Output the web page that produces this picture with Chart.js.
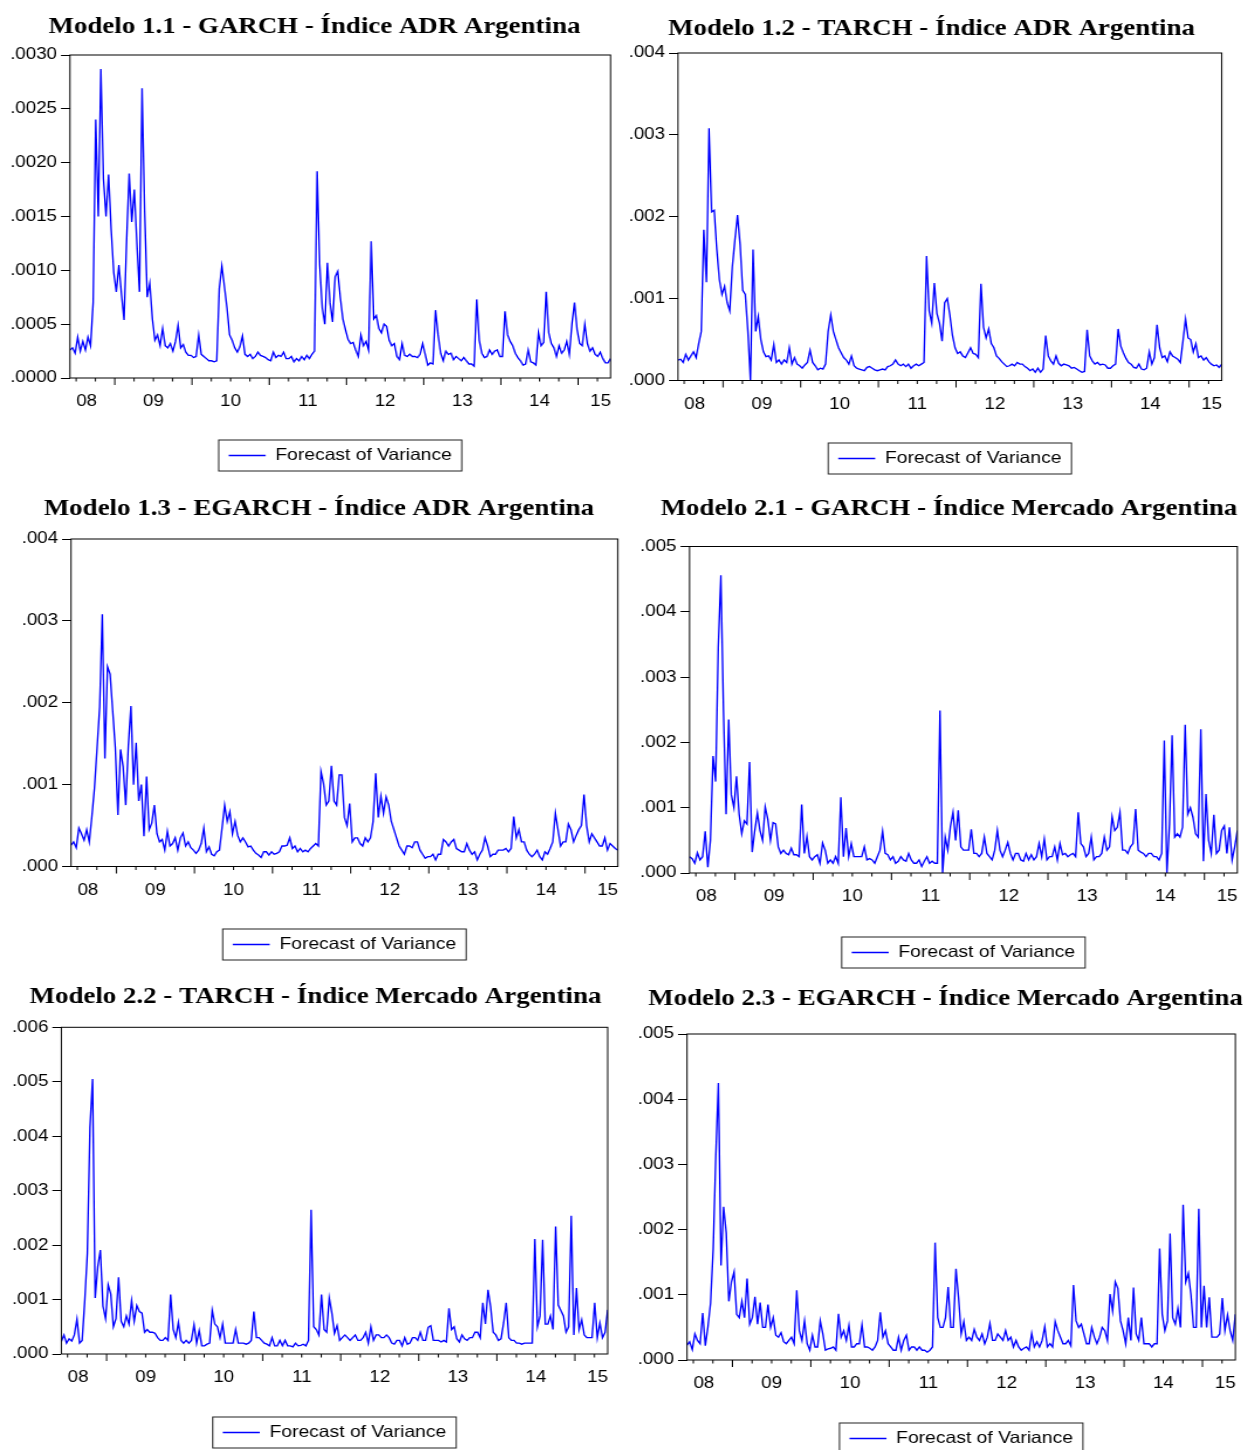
<!DOCTYPE html>
<html>
<head>
<meta charset="utf-8">
<title>Forecast of Variance - Argentina</title>
<script src="https://cdn.jsdelivr.net/npm/chart.js@4.4.1/dist/chart.umd.min.js"></script>
<style>
  html, body { margin: 0; padding: 0; background: #fff; overflow: hidden; }
  body { width: 1243px; height: 1450px; position: relative; }
  canvas { position: absolute; }
</style>
</head>
<body>
<script>
// Conditional variance forecasts, one observation every ~12 trading days
// (30 per year) from late May 2008 to late May 2015, in units of 1e-4.
const adrGarch = [
  2.6, 2.8, 2.3, 3.8, 2.5, 3.4, 2.6, 3.8, 3.0, 7.0,
  24.0, 15.0, 28.7, 18.5, 15.0, 18.9, 13.8, 9.8, 8.0, 10.5,
  7.8, 5.4, 12.8, 19.0, 14.5, 17.5, 12.5, 8.0, 26.9, 15.5,
  7.5, 8.8, 5.5, 3.5, 4.0, 3.0, 4.6, 3.0, 2.8, 3.2,
  2.5, 3.4, 4.9, 2.8, 3.1, 2.4, 2.1, 2.1, 1.9, 2.0,
  4.0, 2.2, 2.0, 1.8, 1.6, 1.6, 1.5, 1.6, 8.3, 10.4,
  8.5, 6.5, 4.0, 3.5, 2.8, 2.4, 2.9, 3.9, 2.2, 2.0,
  2.2, 1.8, 2.0, 2.4, 2.1, 2.0, 1.9, 1.7, 1.6, 2.4,
  1.9, 2.1, 2.0, 2.4, 1.8, 1.8, 2.0, 1.5, 1.8, 1.6,
  2.0, 1.7, 2.1, 1.8, 2.2, 2.5, 19.2, 10.5, 6.5, 5.0,
  10.7, 7.0, 5.2, 9.4, 9.9, 7.5, 5.5, 4.5, 3.6, 3.2,
  3.3, 2.6, 2.0, 4.0, 3.0, 3.4, 2.6, 12.7, 5.5, 5.8,
  4.6, 4.2, 5.0, 4.8, 3.5, 3.0, 3.2, 2.0, 1.7, 3.2,
  2.1, 2.0, 2.2, 2.0, 2.0, 1.9, 2.2, 3.2, 2.2, 1.2,
  1.4, 1.3, 6.3, 4.0, 2.3, 1.6, 2.5, 2.2, 2.3, 1.7,
  2.0, 1.8, 1.6, 1.9, 1.6, 1.3, 1.3, 1.1, 7.3, 3.5,
  2.3, 1.9, 2.0, 2.6, 2.2, 2.5, 2.6, 2.0, 2.0, 6.2,
  4.0, 3.4, 3.0, 2.3, 1.9, 1.6, 1.2, 1.3, 2.6, 1.5,
  1.4, 1.2, 4.2, 3.0, 3.3, 8.0, 4.2, 3.2, 2.8, 2.0,
  3.0, 2.3, 2.6, 3.4, 2.2, 5.0, 7.0, 4.5, 3.2, 3.0,
  5.0, 3.2, 2.5, 2.8, 2.2, 2.0, 2.4, 1.8, 1.4, 1.4, 1.8
];
const adrTarch = [
  2.5, 2.6, 2.2, 3.2, 2.5, 3.0, 3.5, 2.8, 4.5, 6.0,
  18.4, 12.0, 30.8, 20.6, 20.8, 16.0, 12.3, 10.5, 11.5, 9.5,
  8.5, 13.9, 17.2, 20.2, 16.6, 11.0, 10.5, 6.0, 0.0, 16.0,
  6.0, 7.8, 5.0, 3.5, 2.9, 3.0, 2.5, 4.4, 2.2, 2.5,
  2.0, 2.5, 2.2, 4.0, 2.0, 2.8, 2.0, 1.8, 1.5, 1.9,
  2.2, 3.7, 2.2, 1.8, 1.3, 1.5, 1.4, 2.0, 6.0, 8.0,
  6.0, 5.0, 4.0, 3.4, 2.8, 2.5, 2.0, 3.0, 1.8, 1.5,
  1.4, 1.3, 1.2, 1.6, 1.7, 1.5, 1.3, 1.2, 1.3, 1.4,
  1.3, 1.7, 1.8, 2.0, 2.5, 2.0, 1.8, 2.0, 1.7, 2.0,
  1.5, 1.8, 2.0, 1.8, 2.0, 2.2, 15.2, 8.5, 7.0, 11.9,
  8.2, 7.0, 4.8, 9.5, 10.0, 8.0, 5.5, 4.0, 3.3, 3.5,
  3.0, 2.8, 3.4, 4.0, 3.3, 3.2, 2.8, 11.8, 6.5, 5.2,
  6.3, 4.5, 4.0, 3.0, 2.7, 2.3, 2.0, 1.7, 1.8, 2.0,
  1.8, 2.2, 2.0, 2.0, 1.7, 1.5, 1.2, 1.4, 1.0, 1.5,
  1.0, 1.4, 5.5, 3.0, 2.4, 2.0, 3.0, 2.1, 1.8, 2.0,
  1.9, 1.8, 1.5, 1.6, 1.4, 1.2, 1.0, 1.1, 6.2, 3.0,
  2.4, 2.0, 2.2, 1.9, 2.0, 1.9, 1.5, 1.5, 1.8, 2.0,
  6.3, 4.2, 3.4, 2.7, 2.2, 2.0, 1.6, 1.5, 2.0, 1.4,
  1.3, 1.5, 3.5, 2.0, 2.8, 6.8, 4.0, 2.8, 3.0, 2.3,
  3.5, 3.0, 2.8, 2.6, 2.2, 4.8, 7.5, 5.2, 5.0, 3.5,
  4.5, 2.8, 3.0, 2.5, 2.8, 2.3, 2.0, 1.8, 1.9, 1.6, 2.0
];
const adrEgarch = [
  2.6, 3.0, 2.3, 4.7, 4.0, 3.2, 4.5, 3.0, 6.1, 9.6,
  14.5, 19.5, 30.8, 13.2, 24.4, 23.5, 19.0, 14.5, 6.3, 14.3,
  12.2, 7.5, 14.7, 19.6, 10.0, 15.1, 8.0, 10.0, 3.7, 11.0,
  4.5, 5.3, 7.5, 4.0, 3.0, 3.3, 2.0, 4.3, 2.5, 2.8,
  3.5, 2.0, 3.5, 4.1, 2.5, 3.0, 2.3, 2.0, 1.6, 2.0,
  2.8, 4.7, 1.8, 2.4, 1.5, 1.3, 1.8, 2.0, 4.7, 7.5,
  5.5, 6.7, 4.0, 5.5, 3.8, 3.0, 3.5, 3.0, 2.4, 2.5,
  2.0, 1.6, 1.4, 1.1, 1.8, 1.8, 1.4, 1.8, 1.5, 1.6,
  1.8, 2.5, 2.5, 2.6, 3.5, 2.2, 2.5, 1.8, 2.2, 1.8,
  2.0, 1.8, 2.2, 2.5, 2.8, 2.5, 11.6, 10.1, 7.5, 8.0,
  12.3, 8.0, 7.5, 11.2, 11.2, 6.0, 5.0, 7.7, 3.0, 3.5,
  3.5, 2.8, 2.5, 3.5, 3.0, 3.5, 5.5, 11.4, 6.0, 8.6,
  6.5, 8.5, 7.5, 5.5, 4.5, 3.5, 2.5, 2.0, 1.5, 2.5,
  2.5, 2.3, 3.0, 3.0, 2.0, 1.5, 1.0, 1.2, 1.2, 1.5,
  0.8, 1.5, 1.5, 3.3, 3.0, 2.5, 3.0, 3.3, 2.2, 2.0,
  1.8, 1.8, 2.8, 2.0, 1.5, 1.8, 0.8, 1.5, 2.0, 3.5,
  2.5, 1.2, 1.5, 1.5, 2.0, 2.0, 2.0, 2.2, 1.8, 2.2,
  6.1, 3.5, 4.5, 3.0, 3.0, 2.0, 1.5, 1.2, 1.5, 2.0,
  1.2, 0.8, 1.8, 1.5, 2.2, 3.0, 6.5, 4.5, 2.5, 3.0,
  3.0, 5.2, 4.5, 3.0, 3.8, 4.5, 5.0, 8.8, 5.0, 3.0,
  4.0, 3.5, 3.0, 2.5, 2.5, 3.5, 2.0, 2.8, 2.5, 2.2, 2.0
];
const mktGarch = [
  2.5, 2.2, 1.5, 3.1, 2.0, 2.5, 6.4, 0.9, 5.0, 17.9,
  14.0, 34.6, 45.6, 25.0, 9.0, 23.5, 12.0, 10.0, 14.8, 9.0,
  6.0, 8.0, 7.5, 17.0, 3.2, 6.5, 9.2, 6.5, 5.0, 10.1,
  8.2, 5.0, 7.7, 7.5, 4.0, 3.0, 3.5, 3.0, 2.8, 3.8,
  2.8, 2.8, 2.5, 10.5, 3.0, 5.6, 2.5, 2.0, 2.5, 2.8,
  1.5, 4.6, 3.5, 1.5, 2.0, 1.5, 2.5, 1.5, 11.6, 2.5,
  6.9, 2.5, 4.5, 2.5, 2.5, 2.5, 2.5, 4.0, 2.0, 2.2,
  2.0, 1.5, 2.5, 3.5, 6.4, 3.0, 2.8, 2.0, 2.5, 1.5,
  1.8, 2.5, 2.0, 1.8, 3.0, 2.0, 1.5, 1.5, 2.0, 1.0,
  1.8, 2.5, 1.5, 1.8, 1.5, 1.5, 24.9, 0.0, 5.5, 3.5,
  7.1, 9.3, 5.0, 9.6, 4.0, 3.5, 3.5, 3.5, 6.7, 3.0,
  3.0, 2.5, 3.0, 5.5, 3.0, 2.5, 2.0, 3.5, 6.5, 3.5,
  2.5, 3.5, 4.7, 3.0, 2.0, 3.0, 3.0, 2.0, 1.8, 3.0,
  2.0, 2.8, 2.0, 2.5, 4.5, 2.5, 5.2, 2.0, 2.5, 2.5,
  4.0, 2.0, 4.5, 2.8, 3.0, 2.5, 2.8, 3.0, 2.5, 9.3,
  4.5, 4.0, 2.5, 3.0, 5.5, 2.0, 2.5, 2.5, 3.0, 5.5,
  3.5, 4.0, 8.6, 6.5, 7.0, 9.3, 3.5, 3.5, 3.0, 4.0,
  4.5, 9.8, 3.5, 3.2, 3.0, 2.5, 3.0, 3.0, 2.5, 2.5,
  2.0, 3.0, 20.3, 0.0, 7.5, 21.1, 5.5, 6.0, 5.5, 7.0,
  22.7, 9.0, 10.0, 8.5, 6.0, 5.5, 22.0, 1.8, 12.1, 5.0,
  3.0, 8.9, 3.0, 3.5, 6.5, 7.2, 3.0, 7.0, 2.0, 4.0, 6.5
];
const mktTarch = [
  2.3, 3.5, 2.0, 2.8, 2.4, 3.5, 6.4, 2.0, 2.5, 9.8,
  18.5, 41.6, 50.5, 10.3, 16.0, 19.1, 8.8, 6.5, 12.7, 11.0,
  5.0, 6.5, 14.1, 6.0, 5.0, 7.0, 5.5, 9.8, 6.0, 8.9,
  7.8, 7.5, 4.0, 4.5, 4.0, 4.0, 3.8, 3.0, 2.5, 2.5,
  3.0, 2.5, 10.9, 4.5, 3.0, 5.8, 2.5, 2.0, 2.5, 2.0,
  2.5, 5.4, 2.0, 4.3, 1.5, 1.5, 1.8, 2.0, 8.0, 5.5,
  5.0, 3.0, 5.5, 2.0, 2.0, 2.0, 2.0, 4.5, 2.0, 2.0,
  2.0, 1.8, 2.0, 2.5, 7.8, 3.0, 3.0, 2.5, 2.0, 1.8,
  1.5, 3.0, 1.5, 1.5, 2.5, 1.5, 2.5, 1.5, 1.5, 1.3,
  2.0, 1.5, 1.6, 1.8, 1.5, 2.5, 26.5, 5.0, 4.5, 3.5,
  10.9, 4.5, 4.0, 10.3, 7.5, 3.8, 5.2, 2.5, 3.0, 3.5,
  3.0, 2.5, 3.0, 3.5, 2.5, 2.5, 3.0, 4.0, 2.0, 5.0,
  2.5, 3.5, 3.5, 3.0, 3.0, 3.5, 3.0, 2.0, 1.8, 2.5,
  2.5, 1.5, 3.0, 1.8, 2.0, 3.0, 3.0, 2.5, 4.0, 2.5,
  2.5, 4.9, 5.2, 2.5, 2.5, 2.5, 2.2, 2.5, 2.2, 8.4,
  4.5, 5.0, 2.8, 2.2, 3.5, 2.8, 2.5, 3.0, 3.0, 4.0,
  4.0, 3.0, 9.4, 5.5, 11.8, 8.7, 4.0, 3.5, 2.5, 2.8,
  5.7, 9.4, 3.0, 2.5, 2.5, 2.0, 2.0, 1.8, 2.0, 2.0,
  2.0, 2.0, 21.1, 5.0, 7.0, 21.0, 5.5, 5.5, 7.0, 4.5,
  23.4, 9.0, 8.0, 7.0, 4.0, 5.0, 25.4, 3.5, 12.1, 4.5,
  6.3, 3.5, 3.0, 3.0, 3.0, 9.4, 3.0, 5.7, 3.0, 4.0, 8.1
];
const mktEgarch = [
  2.3, 2.8, 1.6, 4.0, 3.0, 2.5, 7.2, 2.2, 5.1, 8.7,
  17.0, 31.2, 42.5, 14.5, 23.5, 19.5, 9.0, 12.0, 13.5, 7.0,
  6.5, 9.0, 6.5, 12.5, 5.5, 6.5, 9.7, 5.5, 8.8, 5.0,
  5.0, 8.5, 5.0, 6.5, 3.8, 3.5, 4.2, 2.8, 2.5, 3.0,
  3.5, 2.5, 10.7, 4.5, 3.0, 6.0, 2.5, 1.5, 3.8, 2.0,
  2.0, 6.0, 4.0, 1.5, 1.7, 1.8, 2.0, 1.5, 7.1, 3.5,
  4.5, 3.0, 5.3, 2.0, 2.0, 2.5, 2.5, 5.4, 2.0, 2.0,
  1.8, 1.5, 2.0, 3.0, 7.3, 3.5, 4.5, 2.5, 2.0, 1.5,
  1.5, 3.5, 1.5, 3.0, 3.8, 1.5, 2.0, 2.0, 1.5, 2.0,
  1.5, 1.5, 1.2, 1.5, 2.0, 18.0, 6.5, 5.0, 5.0, 6.5,
  11.2, 5.0, 5.0, 14.0, 9.5, 4.0, 5.9, 3.0, 3.5, 3.0,
  4.7, 3.5, 3.0, 4.0, 2.5, 3.5, 5.6, 3.0, 3.0, 4.0,
  3.5, 3.0, 4.5, 3.0, 3.5, 2.0, 3.0, 2.0, 1.5, 1.8,
  2.0, 1.5, 4.1, 2.0, 2.8, 2.0, 3.0, 5.1, 2.0, 2.5,
  2.0, 5.9, 4.5, 3.5, 2.5, 2.5, 3.0, 2.2, 11.5, 6.0,
  5.0, 5.5, 4.0, 2.5, 2.5, 5.0, 3.5, 2.5, 3.5, 5.0,
  4.5, 3.0, 10.1, 7.5, 12.0, 11.0, 6.0, 4.5, 2.5, 6.5,
  3.0, 11.1, 4.0, 3.0, 6.5, 2.5, 2.5, 2.5, 2.0, 2.5,
  2.5, 17.1, 7.0, 4.5, 6.0, 19.4, 6.5, 5.5, 7.9, 5.0,
  23.8, 12.0, 13.3, 10.0, 5.0, 5.0, 23.2, 5.0, 11.4, 5.0,
  9.6, 3.5, 3.5, 3.5, 4.0, 9.5, 4.5, 6.9, 4.5, 3.0, 7.0
];

const VALUE_UNIT = 1e-4;         // stored values are multiples of this
const START = 2008.42;           // first observation (fraction of a year)
const END = 2015.42;             // last observation
const OBS_PER_YEAR = 30;

const yearLabels = ['08', '09', '10', '11', '12', '13', '14', '15'];
const yearLabelAt = [2008.635, 2009.5, 2010.5, 2011.5, 2012.5, 2013.5, 2014.5, 2015.29];

const titles = [
  'Modelo 1.1 - GARCH - Índice ADR Argentina',
  'Modelo 1.2 - TARCH - Índice ADR Argentina',
  'Modelo 1.3 - EGARCH - Índice ADR Argentina',
  'Modelo 2.1 - GARCH - Índice Mercado Argentina',
  'Modelo 2.2 - TARCH - Índice Mercado Argentina',
  'Modelo 2.3 - EGARCH - Índice Mercado Argentina'
];
const seriesList = [adrGarch, adrTarch, adrEgarch, mktGarch, mktTarch, mktEgarch];
const yMax = [0.003, 0.004, 0.004, 0.005, 0.006, 0.005];
const yStep = [0.0005, 0.001, 0.001, 0.001, 0.001, 0.001];
const yDecimals = [4, 3, 3, 3, 3, 3];
const SERIES_LABEL = 'Forecast of Variance';

// The figure is drawn narrow and widened horizontally by this factor.
const SX = 1.17;
const TITLE_SIZE = 23, TICK_SIZE = 16, LEGEND_SIZE = 16.5, LEGEND_PAD = 10;

// Page geometry of each panel: canvas box (its centre is the title centre),
// plot box, title and legend centres.
const frames = [
  { cl: 0,   cr: 630,  top: 0,   bottom: 480,  pl: 70,   pr: 611,   pt: 55,     pb: 378,   ty: 27.5, ly: 455.5 },
  { cl: 621, cr: 1242, top: 0,   bottom: 482,  pl: 678,  pr: 1222,  pt: 53,     pb: 380.5, ty: 29.5, ly: 458.5 },
  { cl: 0,   cr: 638,  top: 484, bottom: 972,  pl: 71,   pr: 617.5, pt: 539,    pb: 866.5, ty: 509.5, ly: 944.5 },
  { cl: 630, cr: 1268, top: 484, bottom: 974,  pl: 689.5,pr: 1237,  pt: 546.5,  pb: 873,   ty: 509.5, ly: 952.5 },
  { cl: 0,   cr: 631,  top: 972, bottom: 1462, pl: 61.3, pr: 607.3, pt: 1027.3, pb: 1354,  ty: 997.5, ly: 1432.5 },
  { cl: 630, cr: 1261, top: 974, bottom: 1462, pl: 687,  pr: 1235,  pt: 1034,   pb: 1360,  ty: 999.5, ly: 1438.5 }
];

Chart.defaults.font.family = '"Liberation Sans", Arial, sans-serif';
Chart.defaults.font.size = TICK_SIZE;
Chart.defaults.color = '#000';

// Plot frame, quarterly tick marks (long ones at year boundaries) and the legend box.
const panelDecor = {
  id: 'panelDecor',
  afterDraw(chart) {
    const { ctx, chartArea: a } = chart;
    const x = chart.scales.x;
    ctx.save();
    ctx.strokeStyle = '#000';
    ctx.lineWidth = 1;
    ctx.strokeRect(a.left, a.top, a.right - a.left, a.bottom - a.top);
    ctx.beginPath();
    for (let q = Math.ceil(x.min * 4) / 4; q <= x.max + 1e-9; q += 0.25) {
      const px = x.getPixelForValue(q);
      const len = Math.abs(q - Math.round(q)) < 1e-6 ? 7 : 3.5;
      ctx.moveTo(px, a.bottom);
      ctx.lineTo(px, a.bottom + len);
    }
    ctx.stroke();
    const hb = chart.legend.legendHitBoxes[0];
    if (hb) {
      const cy = hb.top + hb.height / 2;
      ctx.strokeStyle = '#222';
      ctx.strokeRect(hb.left - 10 / SX, cy - 15.5, hb.width + 20 / SX, 31);
    }
    ctx.restore();
  }
};

seriesList.forEach((series, k) => {
  const f = frames[k];
  const canvas = document.createElement('canvas');
  const w = Math.round((f.cr - f.cl) / SX);
  const h = f.bottom - f.top;
  canvas.width = w;
  canvas.height = h;
  canvas.style.left = f.cl + 'px';
  canvas.style.top = f.top + 'px';
  canvas.style.width = (w * SX) + 'px';
  canvas.style.height = h + 'px';
  document.body.appendChild(canvas);

  const yAxisWidth = (f.pl - f.cl) / SX;
  const rightMargin = w - (f.pr - f.cl) / SX;
  const titleTop = f.ty - f.top - TITLE_SIZE / 2;
  const titleBottom = f.pt - f.ty - TITLE_SIZE / 2;
  const legendTop = f.ly - LEGEND_PAD - LEGEND_SIZE / 2;
  const legendHeight = LEGEND_SIZE + LEGEND_PAD + 10;
  const xAxisHeight = legendTop - f.pb;
  const padBottom = f.bottom - legendTop - legendHeight;

  const points = series.map((v, i) => ({ x: START + i / OBS_PER_YEAR, y: v * VALUE_UNIT }));

  new Chart(canvas, {
    type: 'line',
    data: {
      datasets: [{
        label: SERIES_LABEL,
        data: points,
        borderColor: '#0000ff',
        backgroundColor: '#0000ff',
        borderWidth: 1.35,
        pointRadius: 0,
        tension: 0,
        fill: false
      }]
    },
    options: {
      responsive: false,
      animation: false,
      devicePixelRatio: 1,
      events: [],
      layout: { autoPadding: false, padding: { left: 0, top: 0, right: 0, bottom: padBottom } },
      plugins: {
        title: {
          display: true,
          text: titles[k],
          color: '#000',
          font: { family: '"Liberation Serif", "Times New Roman", serif', size: TITLE_SIZE, weight: 'bold', lineHeight: 1 },
          padding: { top: titleTop, bottom: titleBottom }
        },
        legend: {
          display: true,
          position: 'bottom',
          fullSize: false,
          align: 'center',
          labels: {
            color: '#000',
            font: { size: LEGEND_SIZE },
            usePointStyle: true,
            pointStyle: 'line',
            pointStyleWidth: 37 / SX,
            padding: LEGEND_PAD
          }
        },
        tooltip: { enabled: false }
      },
      scales: {
        x: {
          type: 'linear',
          min: START,
          max: END,
          afterBuildTicks: (scale) => { scale.ticks = yearLabelAt.map(v => ({ value: v })); },
          afterFit: (scale) => { scale.height = xAxisHeight; },
          grid: { display: false, drawTicks: false },
          border: { display: false },
          ticks: {
            autoSkip: false, maxRotation: 0, minRotation: 0, padding: 14,
            color: '#000', font: { size: TICK_SIZE },
            callback: (value, index) => yearLabels[index]
          }
        },
        y: {
          min: 0,
          max: yMax[k],
          afterFit: (scale) => { scale.width = yAxisWidth; },
          grid: { display: true, drawOnChartArea: false, drawTicks: true, tickLength: 9 / SX, color: '#000', tickColor: '#000' },
          border: { display: false },
          ticks: {
            stepSize: yStep[k], padding: 4 / SX, color: '#000', font: { size: TICK_SIZE },
            callback: (value) => Number(value).toFixed(yDecimals[k]).replace(/^0\./, '.')
          }
        },
        // empty right-hand margin of the panel (keeps the title centred on the whole panel)
        yRight: {
          position: 'right',
          display: true,
          afterFit: (scale) => { scale.width = rightMargin; },
          grid: { display: false, drawTicks: false },
          border: { display: false },
          ticks: { display: false }
        }
      }
    },
    plugins: [panelDecor]
  });
});
</script>
</body>
</html>
